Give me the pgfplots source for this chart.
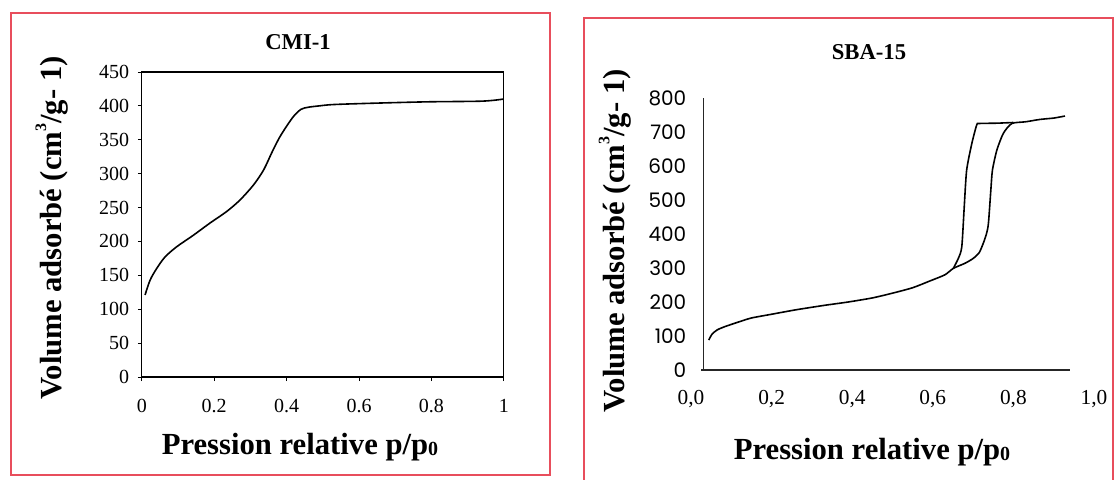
\documentclass[border=0pt]{standalone}
\usepackage{pgfplots}
\pgfplotsset{compat=1.18}
\usepackage{fontspec}
\setmainfont{Liberation Serif}
\newfontfamily\pop{Poppins}
\definecolor{framered}{RGB}{232,78,92}
\newcommand{\supthree}{\raisebox{0.5em}{\fontsize{12}{12}\selectfont 3}}
\newcommand{\subzero}{\raisebox{-0.05em}{\fontsize{15}{15}\selectfont 0}}
\begin{document}
\begin{tikzpicture}[x=0.75pt,y=0.75pt]
\path[use as bounding box] (0,0) rectangle (1114,479);
\draw[framered, line width=2pt] (11,4) rectangle (550,466);
\draw[framered, line width=2pt] (584,-5) rectangle (1113,461);
\begin{axis}[at={(106.35pt,76.5pt)}, anchor=south west, scale only axis,
  width=271.5pt, height=228.75pt,
  xmin=0, xmax=1, ymin=0, ymax=450,
  xtick={0,0.2,0.4,0.6,0.8,1}, ytick={0,50,100,150,200,250,300,350,400,450},
  tick align=outside, major tick length=3pt, tick pos=left,
  /pgf/number format/assume math mode=true,
  ticklabel style={font=\fontsize{15}{17}\selectfont},
  xticklabel style={yshift=-10pt},
  yticklabel style={xshift=-3pt},
  axis line style={line width=0.8pt},
  tick style={black, line width=0.6pt}]
\addplot[black, line width=1.2pt, smooth, tension=0.5] coordinates {
(0.009,121) (0.023,143) (0.041,160) (0.064,177) (0.096,192) (0.142,209)
(0.188,227) (0.234,244) (0.271,261) (0.308,283) (0.336,305) (0.36,332)
(0.38,353) (0.40,370) (0.42,385) (0.44,395) (0.46,398) (0.49,400) (0.53,402)
(0.643,404) (0.79,406) (0.94,407) (0.998,410)};
\end{axis}
\begin{axis}[at={(518.25pt,81.75pt)}, anchor=south west, scale only axis,
  width=302.25pt, height=204pt,
  xmin=0, xmax=1, ymin=0, ymax=800,
  xtick={0,0.2,0.4,0.6,0.8,1}, ytick={0,100,200,300,400,500,600,700,800},
  axis line style={draw=none}, major tick length=0pt, tick pos=left,
  /pgf/number format/assume math mode=true,
  xticklabel style={font=\fontsize{16}{18}\selectfont, yshift=-12pt,
    /pgf/number format/.cd, fixed, fixed zerofill, precision=1, use comma},
  yticklabel style={font=\pop\fontsize{15}{17}\selectfont},
  clip=false]
\draw[black!85, line width=0.8pt] (axis cs:0.026,0) -- (axis cs:0.94,0);
\draw[black!85, line width=0.8pt] (axis cs:0.03,0) -- (axis cs:0.03,800);
\addplot[black, line width=1.2pt, smooth, tension=0.4] coordinates {
(0.044,88) (0.052,105) (0.065,118) (0.085,128) (0.12,142) (0.15,153)
(0.20,164) (0.26,177) (0.33,190) (0.39,200) (0.45,212) (0.50,226)
(0.55,242) (0.593,262) (0.63,280) (0.651,299) (0.68,314) (0.70,328)
(0.715,345) (0.725,372) (0.733,400) (0.738,431) (0.744,529) (0.748,588)
(0.759,647) (0.775,696) (0.796,725) (0.83,730) (0.866,737) (0.90,741) (0.928,747)};
\addplot[black, line width=1.2pt, smooth, tension=0.4] coordinates {
(0.651,299) (0.664,330) (0.672,363) (0.678,480) (0.684,588) (0.697,667)
(0.709,721) (0.715,725) (0.76,726) (0.80,728)};
\end{axis}
\node[font=\bfseries\fontsize{17}{19}\selectfont] at (298,437) {CMI-1};
\node[font=\bfseries\fontsize{17}{19}\selectfont] at (869,427) {SBA-15};
\node[rotate=90, font=\bfseries\fontsize{23}{26}\selectfont] at (52,251) {Volume adsorbé (cm\supthree/g- 1)};
\node[rotate=90, font=\bfseries\fontsize{23}{26}\selectfont] at (615,238) {Volume adsorbé (cm\supthree/g- 1)};
\node[font=\bfseries\fontsize{23}{26}\selectfont] at (300,32) {Pression relative p/p\subzero};
\node[font=\bfseries\fontsize{23}{26}\selectfont] at (872,27) {Pression relative p/p\subzero};
\end{tikzpicture}
\end{document}
